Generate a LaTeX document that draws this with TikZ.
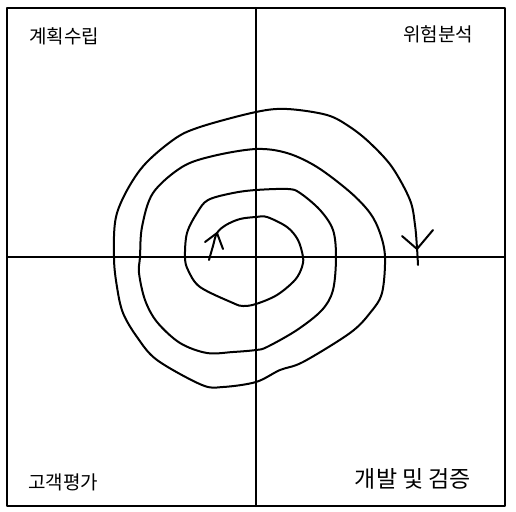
\documentclass[tikz,border=0pt]{standalone}
\usepackage{fontspec}
\setmainfont{Noto Sans CJK KR}
\usepackage{tikz}
\usetikzlibrary{positioning}

\begin{document}
\begin{tikzpicture}[x=1pt, y=-1pt, line width=2pt, line join=round, line cap=round,
    phase/.style={font=\fontsize{19}{22}\selectfont, inner sep=0pt}]
    \useasboundingbox (0,0) rectangle (516,511);

    % frame and axes
    \coordinate (nw) at (7,8);
    \coordinate (se) at (505,506);
    \coordinate (top) at (256,8);
    \coordinate (bot) at (256,506);
    \coordinate (lft) at (7,257);
    \coordinate (rgt) at (505,257);
    \draw (nw) rectangle (se);
    \draw (top) -- (bot);
    \draw (lft) -- (rgt);

    % quadrant names
    \node[phase] (plan) at (64,36) {계획수립};
    \node[phase] (risk) at (438,34) {위험분석};
    \node[phase] (eval) at (63,482) {고객평가};
    \node[phase, font=\fontsize{23}{26}\selectfont] (dev) at (413,479) {개발 및 검증};

    % spiral
    \draw plot[smooth, tension=0.55] coordinates {
      (209,260) (213,246) (217,233) (226,225) (240,219) (256,217) (267,217)
      (287,227) (298,240) (303,257) (302,267) (295,280) (277,295) (256,304)
      (243,306) (233,303) (200,287) (188,270) (185,257) (187,233) (197,213)
      (208,200) (233,193) (256,190) (288,189) (300,193) (320,210) (333,230)
      (336,257) (333,290) (322,310) (297,330) (267,347) (256,350) (233,352)
      (207,353) (180,343) (157,322) (145,300) (139,273) (140,257) (142,227)
      (153,193) (182,167) (213,156) (256,149) (287,153) (317,167) (350,192)
      (370,213) (380,233) (385,257) (382,293) (370,313) (350,333) (303,362)
      (280,370) (256,382) (223,387) (202,385) (157,360) (137,337)
      (123,313) (117,287) (114,257) (117,213) (140,170) (173,140) (200,127)
      (256,112) (287,109) (327,115) (350,127) (370,143) (392,167) (410,200)
      (415,225) (417,248) (418,265)};

    % hand drawn heads
    \coordinate (intip) at (217,233);
    \coordinate (outtip) at (417,249);
    \draw (205,242) -- (intip) -- (223,249);
    \draw (402,236) -- (outtip) -- (433,230);
\end{tikzpicture}
\end{document}
